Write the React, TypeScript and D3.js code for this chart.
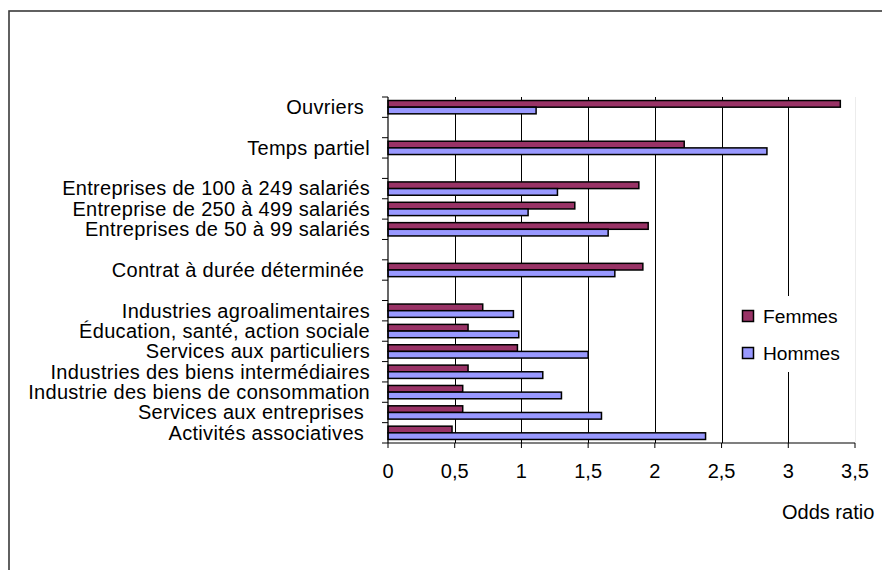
import React from "react";
import * as d3 from "d3";

const categories = [
  "Ouvriers ",
  "",
  "Temps partiel",
  "",
  "Entreprises de 100 à 249 salariés",
  "Entreprise de 250 à 499 salariés",
  "Entreprises de 50 à 99 salariés",
  "",
  "Contrat à durée déterminée ",
  "",
  "Industries agroalimentaires",
  "Éducation, santé, action sociale",
  "Services aux particuliers",
  "Industries des biens intermédiaires",
  "Industrie des biens de consommation",
  "Services aux entreprises ",
  "Activités associatives ",
];

const femmes = [3.39, null, 2.22, null, 1.88, 1.4, 1.95, null, 1.91, null, 0.71, 0.6, 0.97, 0.6, 0.56, 0.56, 0.48];
const hommes = [1.11, null, 2.84, null, 1.27, 1.05, 1.65, null, 1.7, null, 0.94, 0.98, 1.5, 1.16, 1.3, 1.6, 2.38];

const seriesNames = ["Femmes", "Hommes"];
const seriesColors = ["#993366", "#9999FF"];
const xTicks = [0, 0.5, 1, 1.5, 2, 2.5, 3, 3.5];
const axisTitle = "Odds ratio";

const W = 882;
const H = 570;
const FONT = "'Liberation Sans', Arial, sans-serif";

export default function App() {
  const x = d3.scaleLinear().domain([0, 3.5]).range([388, 855]);
  const y = d3
    .scaleBand<number>()
    .domain(categories.map((_, i) => i))
    .range([97, 443])
    .padding(0);
  const inner = d3
    .scaleBand<number>()
    .domain([0, 1])
    .range([0, y.bandwidth()])
    .paddingInner(0)
    .paddingOuter(0.53);
  const series = [femmes, hommes];
  const fmt = (v: number) => String(v).replace(".", ",");
  const bw = y.bandwidth();
  const boundaries = d3.range(categories.length + 1).map((i) => 97 + i * bw);

  return (
    <svg
      width={W}
      height={H}
      style={{ position: "absolute", left: 0, top: 0, background: "#fff" }}
      fontFamily={FONT}
    >
      <rect x={0} y={0} width={W} height={H} fill="#fff" />
      {/* frame */}
      <rect x={9} y={11} width={1000} height={1000} fill="none" stroke="#3a3a3a" strokeWidth={1.6} />

      {/* plot area right border */}
      <line x1={855.5} x2={855.5} y1={97} y2={443} stroke="#ececec" strokeWidth={1} />

      {/* gridlines */}
      {xTicks.slice(1, -1).map((t) => (
        <line
          key={"g" + t}
          x1={Math.round(x(t)) + 0.5}
          x2={Math.round(x(t)) + 0.5}
          y1={97}
          y2={443}
          stroke="#000"
          strokeWidth={1}
        />
      ))}

      {/* bars */}
      {series.map((vals, s) =>
        vals.map((v, i) =>
          v == null ? null : (
            <rect
              key={s + "-" + i}
              x={x(0)}
              y={(y(i) as number) + (inner(s) as number)}
              width={x(v) - x(0)}
              height={inner.bandwidth()}
              fill={seriesColors[s]}
              stroke="#000"
              strokeWidth={1.5}
            />
          )
        )
      )}

      {/* y axis */}
      <line x1={388} x2={388} y1={97} y2={443} stroke="#000" strokeWidth={1.2} />
      {boundaries.map((b, i) => (
        <line key={"yt" + i} x1={382} x2={388} y1={b} y2={b} stroke="#000" strokeWidth={1} />
      ))}
      {categories.map((c, i) =>
        c ? (
          <text
            key={"c" + i}
            x={370}
            y={(y(i) as number) + bw / 2 + 6.8}
            textAnchor="end"
            fontSize={20}
            letterSpacing={0.3}
            fill="#000"
            style={{ whiteSpace: "pre" }}
          >
            {c}
          </text>
        ) : null
      )}

      {/* x axis */}
      <line x1={388} x2={855} y1={443} y2={443} stroke="#000" strokeWidth={1.2} />
      {xTicks.map((t) => (
        <g key={"xt" + t}>
          <line x1={x(t)} x2={x(t)} y1={443} y2={448} stroke="#000" strokeWidth={1} />
          <text x={x(t)} y={478} textAnchor="middle" fontSize={20} fill="#000">
            {fmt(t)}
          </text>
        </g>
      ))}
      <text x={782} y={519} fontSize={20} fill="#000">
        {axisTitle}
      </text>

      {/* legend */}
      <rect x={728} y={296} width={122} height={76} fill="#fff" />
      {seriesNames.map((n, s) => (
        <g key={"l" + s}>
          <rect
            x={742.5}
            y={310.5 + s * 37}
            width={11}
            height={11}
            fill={seriesColors[s]}
            stroke="#000"
            strokeWidth={1.5}
          />
          <text x={763} y={323} fontSize={19.2} fill="#000" transform={`translate(0, ${s * 37})`}>
            {n}
          </text>
        </g>
      ))}
    </svg>
  );
}
